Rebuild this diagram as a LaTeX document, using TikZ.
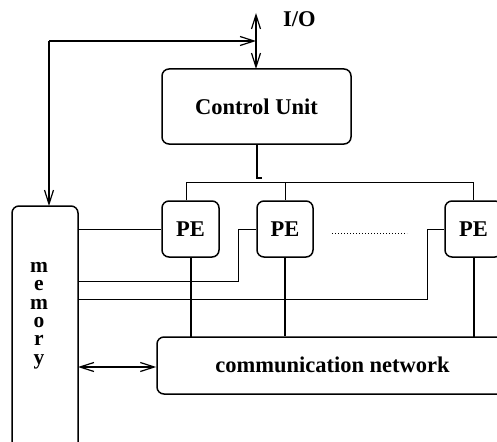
\documentclass[tikz,border=0pt]{standalone}
\usepackage{fontspec}
\setmainfont{Liberation Serif}
\usetikzlibrary{arrows.meta}
\begin{document}
\begin{tikzpicture}[x=1pt,y=-1pt,
  box/.style={draw,line width=1.5pt,rounded corners=7pt,inner sep=0pt},
  lbl/.style={font=\fontsize{22.5}{22.5}\selectfont\bfseries,inner sep=0pt},
  thin/.style={line width=0.9pt},
  bus/.style={line width=1.6pt},
  barb/.style={line width=1.3pt},
  tip/.tip={Straight Barb[length=14pt,width=9pt,line width=1.2pt]}]
\useasboundingbox (0,0) rectangle (497,441);
\begin{scope}
\clip (0,0) rectangle (497,441);

% boxes
\draw[box] (162,69) rectangle (351,144);
\node[lbl] (cu) at (256.5,106.5) {Control Unit};
\coordinate (cutop) at (256,69);
\coordinate (cubot) at (257,144);

\draw[box] (12,206) rectangle (78,470);
\coordinate (memtop) at (49,206);
\node[lbl,align=center,font=\fontsize{21.5}{18.4}\selectfont\bfseries] (memtext) at (39,315.5) {m\\e\\m\\o\\r\\y};

\node[box,minimum width=57pt,minimum height=56pt] (pe1) at (190.5,229) {};
\node[lbl] at (pe1) {PE};
\node[box,minimum width=56pt,minimum height=56pt] (pe2) at (285,229) {};
\node[lbl] at (pe2) {PE};
\node[box,minimum width=57pt,minimum height=56pt] (pe3) at (473.5,229) {};
\node[lbl] at (pe3) {PE};

\node[box,minimum width=353pt,minimum height=57pt] (net) at (333.5,365.5) {};
\node[lbl] (nettext) at (332.5,365) {communication network};

% I/O
\coordinate (iotop) at (256,13);
\node[lbl,anchor=west] (io) at (283,19) {I/O};
\draw[barb,{tip}-{tip}] (iotop) -- (cutop);
\coordinate (corner) at (49,41);
\draw[barb,-{tip}] (memtop |- corner) -- (256,41);
\draw[barb,-{tip}] (corner) -- (memtop);

% control unit to PE bus
\draw[line width=1.5pt] (cubot) -- (257,178) -- (262,178);
\draw[thin] (pe1.north -| 186,0) -- (186,182) -- (473,182) -- (pe3.north -| 473,0);
\draw[thin] (285,182) -- (pe2.north);

% PEs to network
\draw[bus] (191,257) -- (191,337);
\draw[bus] (pe2.south) -- (net.north -| pe2.south);
\draw[bus] (474,257) -- (474,337);

% memory to PEs
\draw[thin] (78,229) -- (pe1.west);
\draw[thin] (78,281) -- (238,281) -- (238,229) -- (pe2.west);
\draw[thin] (78,299) -- (427,299) -- (427,229) -- (pe3.west);

% memory to network
\draw[barb,{tip}-{tip}] (78,367) -- (net.west |- 0,367);

% omitted PEs
\draw[line width=1pt,dash pattern=on 1pt off 2pt] (332,233) -- (407,233);
\end{scope}
\end{tikzpicture}
\end{document}
